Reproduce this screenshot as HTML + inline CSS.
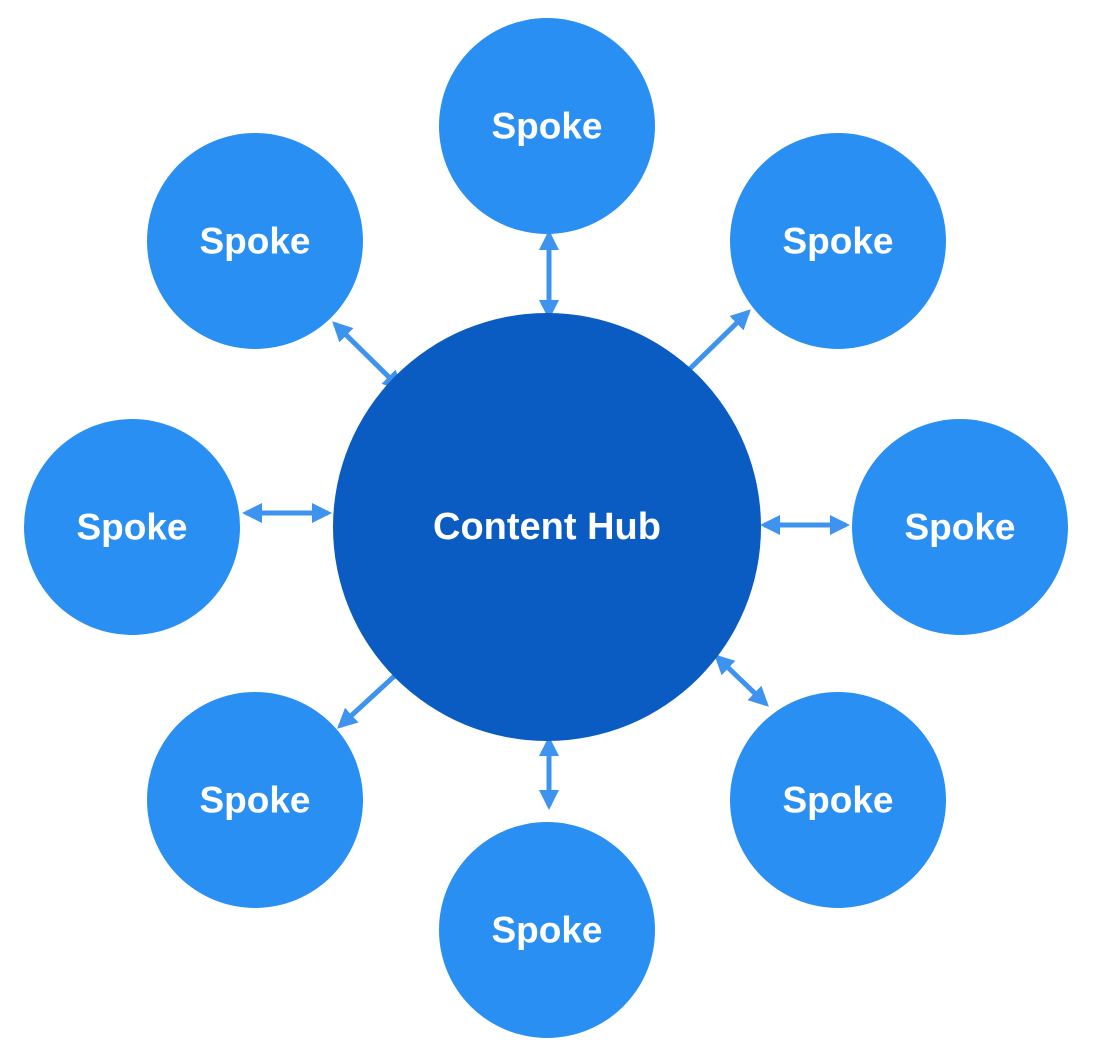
<!DOCTYPE html>
<html><head><meta charset="utf-8"><style>
html,body{margin:0;padding:0;background:#fff;}
svg{display:block;}
text{font-family:"Liberation Sans",Arial,sans-serif;font-weight:bold;fill:#fff;text-anchor:middle;dominant-baseline:central;}
</style></head><body>
<svg width="1100" height="1051" viewBox="0 0 1100 1051" xmlns="http://www.w3.org/2000/svg">
<defs>
<marker id="a" viewBox="0 0 10 10" refX="8" refY="5" markerWidth="4" markerHeight="4" orient="auto-start-reverse">
<path d="M0,0 L10,5 L0,10 z" fill="#3d93ee"/>
</marker>
</defs>
<g stroke="#3d93ee" stroke-width="5" marker-start="url(#a)" marker-end="url(#a)">
<line x1="549" y1="234" x2="549" y2="316"/>
<line x1="335" y1="324" x2="400" y2="388"/>
<line x1="748" y1="312" x2="660" y2="398"/>
<line x1="246" y1="513" x2="328" y2="513"/>
<line x1="764" y1="525" x2="846" y2="525"/>
<line x1="426" y1="647" x2="340" y2="726"/>
<line x1="717" y1="657" x2="766" y2="704"/>
<line x1="549" y1="740" x2="549" y2="806"/>
</g>
<circle cx="547" cy="527" r="214" fill="#0a5cc2"/>
<g fill="#2a8ff3">
<circle cx="547" cy="126" r="108"/>
<circle cx="255" cy="241" r="108"/>
<circle cx="838" cy="241" r="108"/>
<circle cx="132" cy="527" r="108"/>
<circle cx="960" cy="527" r="108"/>
<circle cx="255" cy="800" r="108"/>
<circle cx="838" cy="800" r="108"/>
<circle cx="547" cy="930" r="108"/>
</g>
<text x="547" y="527" font-size="38">Content Hub</text>
<g font-size="37">
<text x="547" y="126">Spoke</text>
<text x="255" y="241">Spoke</text>
<text x="838" y="241">Spoke</text>
<text x="132" y="527">Spoke</text>
<text x="960" y="527">Spoke</text>
<text x="255" y="800">Spoke</text>
<text x="838" y="800">Spoke</text>
<text x="547" y="930">Spoke</text>
</g>
</svg>
</body></html>
